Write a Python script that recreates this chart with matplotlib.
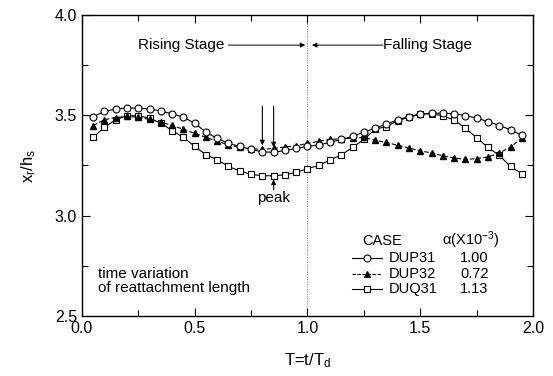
import matplotlib
matplotlib.use("Agg")
import matplotlib.pyplot as plt
from matplotlib.lines import Line2D
from matplotlib.ticker import MultipleLocator, FormatStrFormatter

plt.rcParams['font.family'] = ['Liberation Sans', 'DejaVu Sans']
plt.rcParams['mathtext.fontset'] = 'custom'
plt.rcParams['mathtext.rm'] = 'Liberation Sans'
plt.rcParams['mathtext.it'] = 'Liberation Sans'

# Dimensionless time T = t/T_d
T = [0.05, 0.10, 0.15, 0.20, 0.25, 0.30, 0.35, 0.40, 0.45, 0.50,
     0.55, 0.60, 0.65, 0.70, 0.75, 0.80, 0.85, 0.90, 0.95, 1.00,
     1.05, 1.10, 1.15, 1.20, 1.25, 1.30, 1.35, 1.40, 1.45, 1.50,
     1.55, 1.60, 1.65, 1.70, 1.75, 1.80, 1.85, 1.90, 1.95]

# Reattachment length x_r/h_s for each case
dup31 = [3.494, 3.519, 3.532, 3.536, 3.536, 3.531, 3.522, 3.507, 3.491, 3.460,
         3.416, 3.385, 3.360, 3.345, 3.330, 3.318, 3.315, 3.325, 3.335, 3.345,
         3.352, 3.365, 3.380, 3.395, 3.416, 3.436, 3.456, 3.478, 3.494, 3.507,
         3.510, 3.511, 3.507, 3.499, 3.486, 3.469, 3.449, 3.428, 3.400]
dup32 = [3.449, 3.478, 3.489, 3.495, 3.490, 3.480, 3.465, 3.450, 3.430, 3.410,
         3.390, 3.370, 3.353, 3.340, 3.333, 3.330, 3.335, 3.342, 3.348, 3.360,
         3.370, 3.380, 3.383, 3.386, 3.390, 3.375, 3.365, 3.350, 3.337, 3.323,
         3.312, 3.298, 3.287, 3.280, 3.284, 3.292, 3.312, 3.342, 3.386]
duq31 = [3.390, 3.440, 3.478, 3.498, 3.498, 3.486, 3.461, 3.424, 3.390, 3.345,
         3.303, 3.279, 3.245, 3.222, 3.205, 3.199, 3.198, 3.204, 3.215, 3.234,
         3.250, 3.277, 3.303, 3.340, 3.380, 3.431, 3.444, 3.473, 3.491, 3.506,
         3.507, 3.498, 3.476, 3.436, 3.388, 3.340, 3.300, 3.245, 3.209]

cases = ['DUP31', 'DUP32', 'DUQ31']
alphas = ['1.00', '0.72', '1.13']

fig = plt.figure(figsize=(5.53, 3.76), dpi=100)
ax = fig.add_axes([0.148, 0.160, 0.816, 0.800])

ms = 5
ax.plot(T, dup31, '-', color='black', lw=0.8, marker='o', ms=ms,
        mfc='white', mec='black', mew=0.8, zorder=4)
ax.plot(T, dup32, '--', color='black', lw=0.8, dashes=(4, 2), marker='^',
        ms=ms, mfc='black', mec='black', zorder=3)
ax.plot(T, duq31, '-', color='black', lw=0.8, marker='s', ms=ms - 0.3,
        mfc='white', mec='black', mew=0.8, zorder=2)

ax.set_xlim(0, 2.0)
ax.set_ylim(2.5, 4.0)
ax.xaxis.set_major_locator(MultipleLocator(0.5))
ax.xaxis.set_minor_locator(MultipleLocator(0.25))
ax.yaxis.set_major_locator(MultipleLocator(0.5))
ax.yaxis.set_minor_locator(MultipleLocator(0.25))
ax.tick_params(which='both', direction='in', top=True, right=True,
               labelsize=11.5, width=0.8)
ax.tick_params(which='major', length=6)
ax.tick_params(which='minor', length=4)
ax.xaxis.set_major_formatter(FormatStrFormatter('%.1f'))
ax.yaxis.set_major_formatter(FormatStrFormatter('%.1f'))
for s in ax.spines.values():
    s.set_linewidth(1.0)

ax.set_xlabel(r'T=t/T$_{\mathrm{d}}$', fontsize=12, labelpad=11)
ax.set_ylabel(r'x$_{\mathrm{r}}$/h$_{\mathrm{s}}$', fontsize=12, labelpad=12)

# Boundary between rising and falling stages
ax.axvline(1.0, color='0.45', lw=0.7, ls=(0, (1, 1.5)), zorder=1)

ax.text(0.25, 3.85, 'Rising Stage', fontsize=11, ha='left', va='center')
ax.annotate('', xy=(0.99, 3.85), xytext=(0.65, 3.85),
            arrowprops=dict(arrowstyle='-|>', color='black', lw=0.7,
                            mutation_scale=7, shrinkA=0, shrinkB=0))
ax.text(1.335, 3.85, 'Falling Stage', fontsize=11, ha='left', va='center')
ax.annotate('', xy=(1.02, 3.85), xytext=(1.335, 3.85),
            arrowprops=dict(arrowstyle='-|>', color='black', lw=0.7,
                            mutation_scale=7, shrinkA=0, shrinkB=0))

# Peak markers
for tp, yp in [(0.80, 3.350), (0.85, 3.340)]:
    ax.annotate('', xy=(tp, yp), xytext=(tp, 3.545),
                arrowprops=dict(arrowstyle='-|>', color='black', lw=0.8,
                                mutation_scale=7, shrinkA=0, shrinkB=0))
ax.annotate('', xy=(0.85, 3.180), xytext=(0.85, 3.128),
            arrowprops=dict(arrowstyle='-|>', color='black', lw=0.8,
                            mutation_scale=7, shrinkA=0, shrinkB=0))
ax.text(0.85, 3.09, 'peak', fontsize=11, ha='center', va='center')

ax.text(0.07, 2.672, 'time variation\nof reattachment length', fontsize=11,
        ha='left', va='center', linespacing=1.0)

# Case table
fig.text(362 / 553, 1 - 241 / 376, 'CASE', fontsize=10.5, va='center')
fig.text(442 / 553, 1 - 240 / 376, r'$\alpha$(X10$^{-3}$)', fontsize=10.5,
         va='center')
rows_y = [258, 273.5, 289]
styles = [dict(ls='-', marker='o', mfc='white'),
          dict(ls='--', marker='^', mfc='black'),
          dict(ls='-', marker='s', mfc='white')]
for name, a, yy, st in zip(cases, alphas, rows_y, styles):
    yf = 1 - yy / 376
    seg = Line2D([352 / 553, 382 / 553], [yf, yf], transform=fig.transFigure,
                 color='black', lw=0.8, ls=st['ls'])
    if st['ls'] == '--':
        seg.set_dashes((3, 1.5))
    fig.lines.append(seg)
    fig.lines.append(Line2D([367 / 553], [yf], transform=fig.transFigure,
                            marker=st['marker'], ms=5, mfc=st['mfc'],
                            mec='black', mew=0.8, color='black', ls='none'))
    fig.text(389 / 553, yf, name, fontsize=10.5, va='center')
    fig.text(460 / 553, yf, a, fontsize=10.5, va='center')

fig.savefig('out.png', dpi=100)
